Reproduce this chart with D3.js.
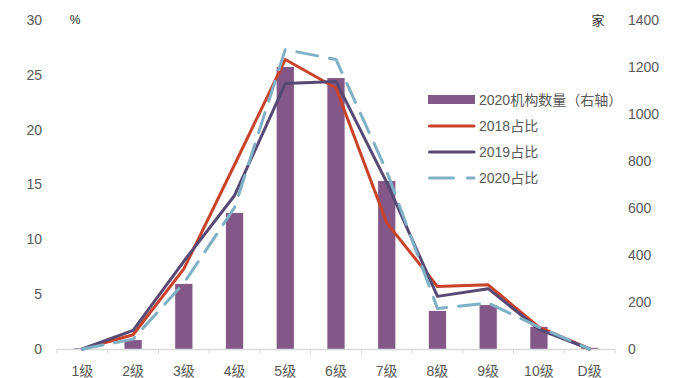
<!DOCTYPE html>
<html>
<head>
<meta charset="utf-8">
<script src="https://cdn.jsdelivr.net/npm/d3@7"></script>
<style>
body { margin: 0; background: #fff; }
text { font-family: "Liberation Sans", Arial, "Noto Sans CJK SC", sans-serif; }
</style>
</head>
<body>
<div id="chart"></div>
<script>
var categories = ["1级","2级","3级","4级","5级","6级","7级","8级","9级","10级","D级"];
var count2020 = [3, 38, 277, 579, 1200, 1153, 715, 162, 187, 94, 5];
var share2018 = [0, 1.3, 7.3, 16.8, 26.4, 23.8, 11.5, 5.7, 5.85, 2.0, 0];
var share2019 = [0, 1.7, 8.0, 14.0, 24.2, 24.4, 15.2, 4.8, 5.5, 1.8, 0];
var share2020 = [0, 0.9, 6.0, 12.9, 27.3, 26.4, 16.2, 3.7, 4.2, 2.0, 0];
var leftTicks = [0, 5, 10, 15, 20, 25, 30];
var rightTicks = [0, 200, 400, 600, 800, 1000, 1200, 1400];

var width = 679, height = 378;
var plotLeft = 57, plotRight = 615, plotTop = 20, plotBottom = 349;

var svg = d3.select("#chart").append("svg")
    .attr("width", width)
    .attr("height", height);

var x = d3.scaleBand().domain(categories).range([plotLeft, plotRight]),
    yL = d3.scaleLinear().domain([0, 30]).range([plotBottom, plotTop]),
    yR = d3.scaleLinear().domain([0, 1400]).range([plotBottom, plotTop]);

var textColor = "#595959";

// left axis
var yAxisL = d3.axisLeft(yL).tickValues(leftTicks).tickSize(0).tickPadding(0);
svg.append("g").attr("transform", "translate(42,0)").call(yAxisL)
    .call(function(g){ g.select(".domain").remove(); })
    .selectAll("text").attr("fill", textColor).style("font-size", "14px")
    .style("font-family", "'Liberation Sans', Arial, sans-serif");

// right axis
var yAxisR = d3.axisRight(yR).tickValues(rightTicks).tickSize(0).tickPadding(0)
    .tickFormat(d3.format("d"));
svg.append("g").attr("transform", "translate(628,0)").call(yAxisR)
    .call(function(g){ g.select(".domain").remove(); })
    .selectAll("text").attr("fill", textColor).style("font-size", "14px")
    .style("font-family", "'Liberation Sans', Arial, sans-serif");

// unit labels
svg.append("text").attr("x", 75).attr("y", 24).attr("text-anchor", "middle")
    .style("font-size", "12px").attr("fill", "#222").text("%");
svg.append("text").attr("x", 598).attr("y", 25).attr("text-anchor", "middle")
    .style("font-size", "13px").attr("fill", "#333").text("家");

// bars
var barW = x.bandwidth() * 0.34;
svg.selectAll("rect.bar")
    .data(count2020)
    .enter().append("rect")
    .attr("class", "bar")
    .attr("x", function(d, i){ return x(categories[i]) + x.bandwidth()/2 - barW/2; })
    .attr("width", barW)
    .attr("y", function(d){ return yR(d); })
    .attr("height", function(d){ return plotBottom - yR(d); })
    .attr("fill", "#835788");

// x axis
svg.append("line").attr("x1", plotLeft).attr("x2", plotRight)
    .attr("y1", plotBottom + 0.5).attr("y2", plotBottom + 0.5)
    .attr("stroke", "#d9d9d9").attr("stroke-width", 1.5);
svg.selectAll("line.tick")
    .data(categories.concat(["end"]))
    .enter().append("line")
    .attr("class", "tick")
    .attr("x1", function(d, i){ return plotLeft + i * x.step(); })
    .attr("x2", function(d, i){ return plotLeft + i * x.step(); })
    .attr("y1", plotBottom).attr("y2", plotBottom + 5)
    .attr("stroke", "#d9d9d9");
svg.selectAll("text.xl")
    .data(categories)
    .enter().append("text")
    .attr("class", "xl")
    .attr("x", function(d){ return x(d) + x.bandwidth()/2; })
    .attr("y", 376)
    .attr("text-anchor", "middle")
    .attr("fill", textColor)
    .style("font-size", "14px")
    .text(function(d){ return d; });

// lines
var line = d3.line()
    .x(function(d, i){ return x(categories[i]) + x.bandwidth()/2; })
    .y(function(d){ return yL(d); });

var series = [
    {name: "2018占比", values: share2018, color: "#C9432A", dash: null},
    {name: "2019占比", values: share2019, color: "#564A75", dash: null},
    {name: "2020占比", values: share2020, color: "#7FB0C6", dash: "21,12"}
];

series.forEach(function(s){
    svg.append("path")
        .datum(s.values)
        .attr("d", line)
        .attr("fill", "none")
        .attr("stroke", s.color)
        .attr("stroke-width", 3)
        .attr("stroke-linejoin", "round")
        .attr("stroke-linecap", "round")
        .attr("stroke-dasharray", s.dash);
});

// legend
var lg = svg.append("g").attr("transform", "translate(428,100)");
lg.append("rect").attr("x", 0).attr("y", -5).attr("width", 47).attr("height", 9).attr("fill", "#835788");
lg.append("text").attr("x", 51).attr("y", 5).attr("fill", textColor)
    .style("font-size", "14px").text("2020机构数量（右轴）");
series.forEach(function(s, i){
    var yy = 26 * (i + 1);
    lg.append("line").attr("x1", 1.5).attr("x2", 46).attr("y1", yy).attr("y2", yy)
        .attr("stroke", s.color).attr("stroke-width", 3)
        .attr("stroke-linecap", "round")
        .attr("stroke-dasharray", s.dash ? "24,14" : null);
    lg.append("text").attr("x", 51).attr("y", yy + 5).attr("fill", textColor)
        .style("font-size", "14px").text(s.name);
});
</script>
</body>
</html>
